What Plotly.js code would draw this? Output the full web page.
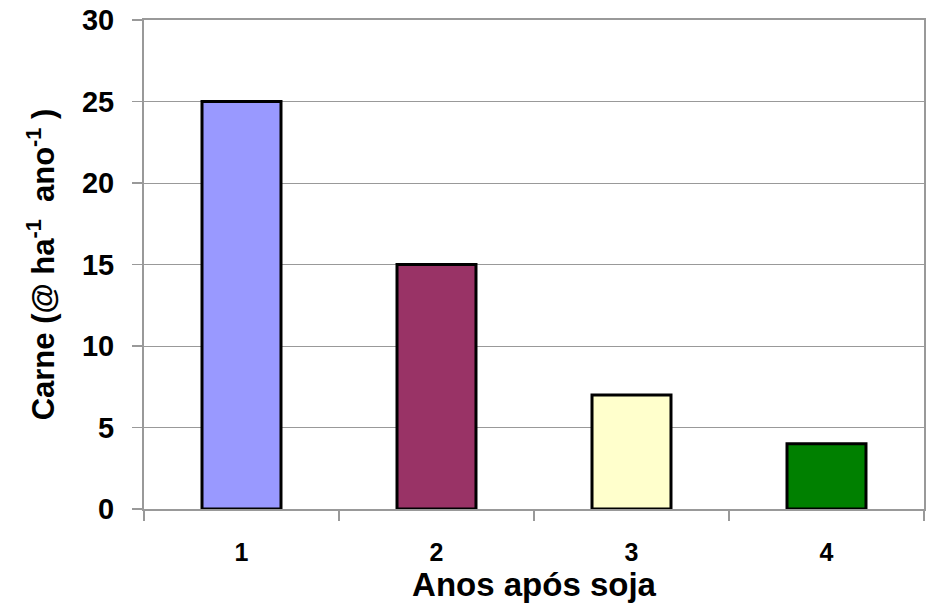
<!DOCTYPE html>
<html><head><meta charset="utf-8">
<script src="https://cdn.plot.ly/plotly-3.0.1.min.js"></script>
<style>html,body{margin:0;padding:0;background:#fff}#c{width:928px;height:603px}</style>
</head><body><div id="c"></div>
<script>
const categories = ["1", "2", "3", "4"];
const values = [25, 15, 7, 4];
const colors = ["#9999FF", "#993366", "#FFFFCC", "#008000"];
const yTicks = [0, 5, 10, 15, 20, 25, 30];

const trace = {
  type: "bar",
  x: categories,
  y: values,
  width: 0.405,
  marker: {color: colors, line: {color: "#000", width: 3}},
  hoverinfo: "skip"
};
const fam = "Liberation Sans";
const layout = {
  width: 928, height: 603,
  margin: {l: 144, r: 4, t: 20, b: 94},
  paper_bgcolor: "#fff", plot_bgcolor: "#fff",
  showlegend: false,
  font: {family: fam, color: "#000", size: 20},
  xaxis: {
    type: "category", range: [-0.5, 3.5],
    tickvals: categories, ticktext: categories.map(c => "<b>" + c + "</b>"),
    tickson: "boundaries", ticks: "outside", ticklen: 10, tickcolor: "#999", tickwidth: 1.5,
    showline: true, linecolor: "#999", linewidth: 2, mirror: true,
    showgrid: false, zeroline: false,
    tickfont: {family: fam, size: 25, color: "#000"},
    ticklabelstandoff: 20,
    title: {text: "<b>Anos após soja</b>", font: {family: fam, size: 33, color: "#000"}, standoff: 8}
  },
  yaxis: {
    range: [0, 30], tickvals: yTicks, ticktext: yTicks.map(v => "<b>" + v + "</b>"),
    ticks: "outside", ticklen: 10, tickcolor: "#999", tickwidth: 1.5,
    showline: true, linecolor: "#999", linewidth: 2, mirror: true,
    showgrid: true, gridcolor: "#999", gridwidth: 1, zeroline: false,
    tickfont: {family: fam, size: 29, color: "#000"},
    ticklabelstandoff: 12,
    title: {text: "<b>Carne (@ ha<sup>-1</sup>  ano<sup>-1</sup> )</b>", font: {family: fam, size: 31, color: "#000"}, standoff: 18}
  }
};
Plotly.newPlot("c", [trace], layout, {staticPlot: true});
</script></body></html>
